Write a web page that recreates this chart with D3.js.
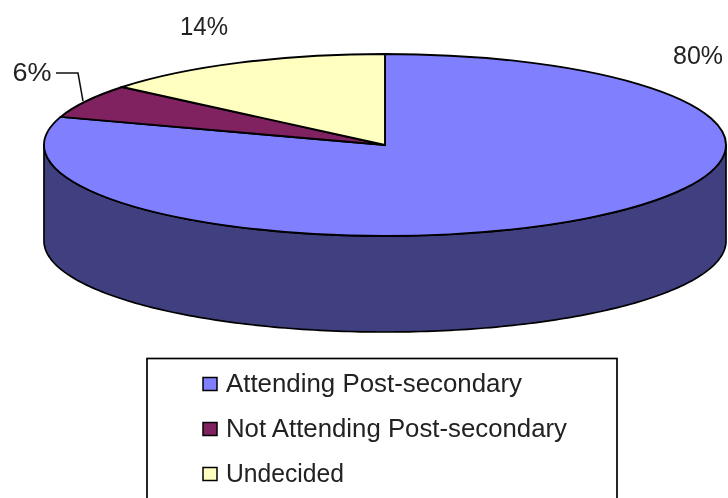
<!DOCTYPE html>
<html><head><meta charset="utf-8">
<script src="https://cdn.jsdelivr.net/npm/d3@7"></script>
<style>html,body{margin:0;padding:0;background:#fff;overflow:hidden}svg{display:block}
text{font-family:"Liberation Sans",Arial,sans-serif;fill:#222}</style></head>
<body><div id="c"></div>
<script>
const categories = ["Attending Post-secondary","Not Attending Post-secondary","Undecided"];
const values = [80,6,14];
const labels = ["80%","6%","14%"];
const colors = ["#8080ff","#802060","#ffffc0"];
const sideColor = "#404080";

const W=728,H=498,cx=385,cy=145,rx=341,ry=91,depth=96;
const svg=d3.select("#c").append("svg").attr("width",W).attr("height",H);
const defs=svg.append("defs");
defs.append("filter").attr("id","soft").attr("filterUnits","userSpaceOnUse")
  .attr("x",0).attr("y",0).attr("width",W).attr("height",H)
  .append("feGaussianBlur").attr("stdDeviation",0.55);
const g=svg.append("g").attr("filter","url(#soft)");

const arcs=d3.pie().sort(null)(values);
const px=a=>cx+rx*Math.sin(a), py=a=>cy-ry*Math.cos(a);

// side wall: front half of the rim, extruded downward
const front=d3.range(90,270.5,1).map(d=>d*Math.PI/180);
const ring=[...front.map(a=>[px(a),py(a)]),...front.slice().reverse().map(a=>[px(a),py(a)+depth])];
g.append("path").attr("d",d3.line()(ring)+"Z").attr("fill",sideColor).attr("stroke","#000").attr("stroke-width",1.7);

// top slices
const arcGen=d3.arc().innerRadius(0).outerRadius(rx);
g.append("g").attr("transform",`translate(${cx},${cy}) scale(1,${ry/rx})`)
 .selectAll("path").data(arcs).join("path")
 .attr("d",arcGen).attr("fill",(d,i)=>colors[i])
 .attr("stroke","#000").attr("stroke-width",1.9).attr("vector-effect","non-scaling-stroke");

// data labels
const labelPos=[[698,64],[32,81],[204,35]];
const labelW=[50,39,48];
g.selectAll("text.val").data(labels).join("text").attr("class","val")
 .attr("x",(d,i)=>labelPos[i][0]).attr("y",(d,i)=>labelPos[i][1])
 .attr("text-anchor","middle").attr("font-size",26)
 .attr("textLength",(d,i)=>labelW[i]).attr("lengthAdjust","spacingAndGlyphs").text(d=>d);

// leader line for the small slice
g.append("path").attr("d",d3.line()([[56,73],[78,73],[83,101]])).attr("fill","none").attr("stroke","#111").attr("stroke-width",1.5);

// legend
g.append("rect").attr("x",147).attr("y",358.5).attr("width",470).attr("height",160).attr("fill","#fff").attr("stroke","#000").attr("stroke-width",1.7);
const rowY=d3.scalePoint().domain(categories).range([384,474]);
const legendW=[296,341,118];
const row=g.selectAll("g.row").data(categories).join("g").attr("class","row").attr("transform",d=>`translate(0,${rowY(d)})`);
row.append("rect").attr("x",203).attr("y",-6.5).attr("width",14).attr("height",13).attr("fill",(d,i)=>colors[i]).attr("stroke","#000").attr("stroke-width",1.5);
row.append("text").attr("x",226).attr("y",8).attr("font-size",26)
 .attr("textLength",(d,i)=>legendW[i]).attr("lengthAdjust","spacingAndGlyphs").text(d=>d);
</script></body></html>
